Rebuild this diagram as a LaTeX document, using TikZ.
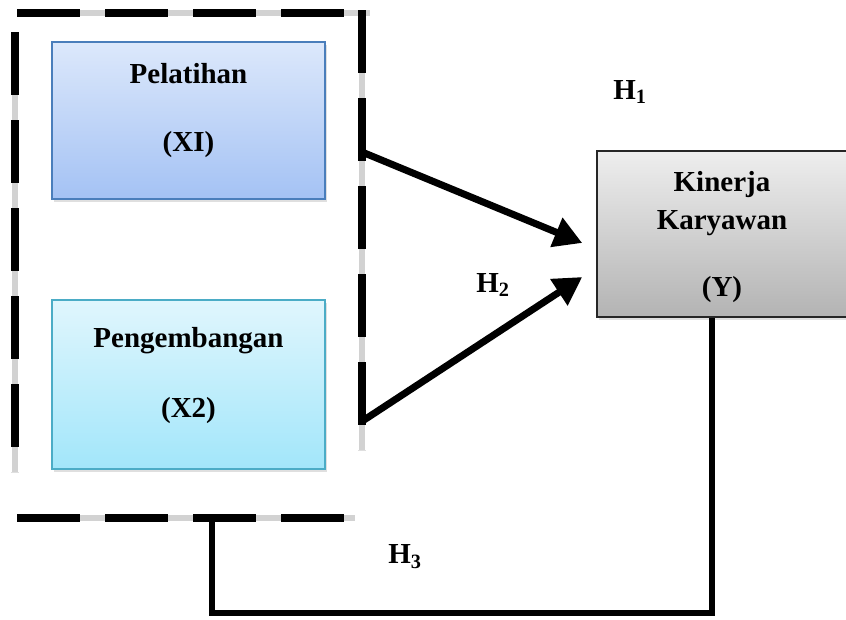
\documentclass[tikz,border=0pt]{standalone}
\usepackage{fontspec}
\setmainfont{Liberation Serif}
\usetikzlibrary{arrows.meta,shadows}
\definecolor{bluetop}{HTML}{DCE8FB}
\definecolor{bluebot}{HTML}{A4C2F4}
\definecolor{blueln}{HTML}{4A7EBB}
\definecolor{cyantop}{HTML}{E0F6FD}
\definecolor{cyanbot}{HTML}{A2E6FA}
\definecolor{cyanln}{HTML}{4BACC6}
\definecolor{greytop}{HTML}{EEEEEE}
\definecolor{greybot}{HTML}{B3B3B3}
\begin{document}
\begin{tikzpicture}[x=1pt,y=-1pt,
  lbl/.style={font=\fontsize{29}{35}\selectfont\bfseries, align=center, inner sep=0pt},
  hlbl/.style={font=\fontsize{29}{35}\selectfont\bfseries, inner sep=0pt},
  boxstyle/.style={rectangle, line width=1.5pt, inner sep=0pt,
    drop shadow={shadow xshift=2pt, shadow yshift=-3pt, opacity=0.25}},
  grpgray/.style={line width=6.5pt, draw=gray!35},
  grpdash/.style={line width=7.5pt, draw=black, dash pattern=on 63pt off 25pt},
  arr/.style={line width=7pt, -{Triangle[length=28pt,width=30pt]}},
  link/.style={line width=6.5pt}
]
\useasboundingbox (0,0) rectangle (846,619);

% boxes
\node[boxstyle, draw=blueln, top color=bluetop, bottom color=bluebot,
  minimum width=273pt, minimum height=157pt] (x1) at (188.5,120.5) {};
\node[lbl] (x1t) at (188.5,111) {Pelatihan\\[33pt](XI)};

\node[boxstyle, draw=cyanln, top color=cyantop, bottom color=cyanbot,
  minimum width=273pt, minimum height=169pt] (x2) at (188.5,384.5) {};
\node[lbl] (x2t) at (188.5,376) {Pengembangan\\[35pt](X2)};

\node[boxstyle, draw=black!85, top color=greytop, bottom color=greybot,
  minimum width=250pt, minimum height=166pt] (y) at (722,234) {};
\node[lbl] (yt) at (722,237.5) {Kinerja\\[3pt]Karyawan\\[32pt](Y)};

% dashed group frame
\draw[grpgray] (17,13) -- (370,13);
\draw[grpgray] (15,32) -- (15,472);
\draw[grpgray] (362,10) -- (362,450);
\draw[grpgray] (17,518) -- (355,518);
\draw[grpdash] (17,13) -- (368,13);
\draw[grpdash] (15,32) -- (15,472);
\draw[grpdash] (362,10) -- (362,450);
\draw[grpdash] (17,518) -- (355,518);

% connector points
\coordinate (a1) at (362,152);
\coordinate (a2) at (364,420);
\coordinate (t1) at ([xshift=-14pt,yshift=-9pt]y.west);
\coordinate (t2) at ([xshift=-14pt,yshift=-43pt]y.west);
\coordinate (g) at (212,518);
\coordinate (yb) at ([xshift=-10pt]y.south);

\draw[arr] (a1) -- (t1);
\draw[arr] (a2) -- (t2);
\draw[link] (g) -- (g |- 0,613) -- (yb |- 0,613) -- (yb);

% hypothesis labels
\node[hlbl] (h1) at (630,92) {H\textsubscript{1}};
\node[hlbl] (h2) at (493,285) {H\textsubscript{2}};
\node[hlbl] (h3) at (405,557) {H\textsubscript{3}};
\end{tikzpicture}
\end{document}
